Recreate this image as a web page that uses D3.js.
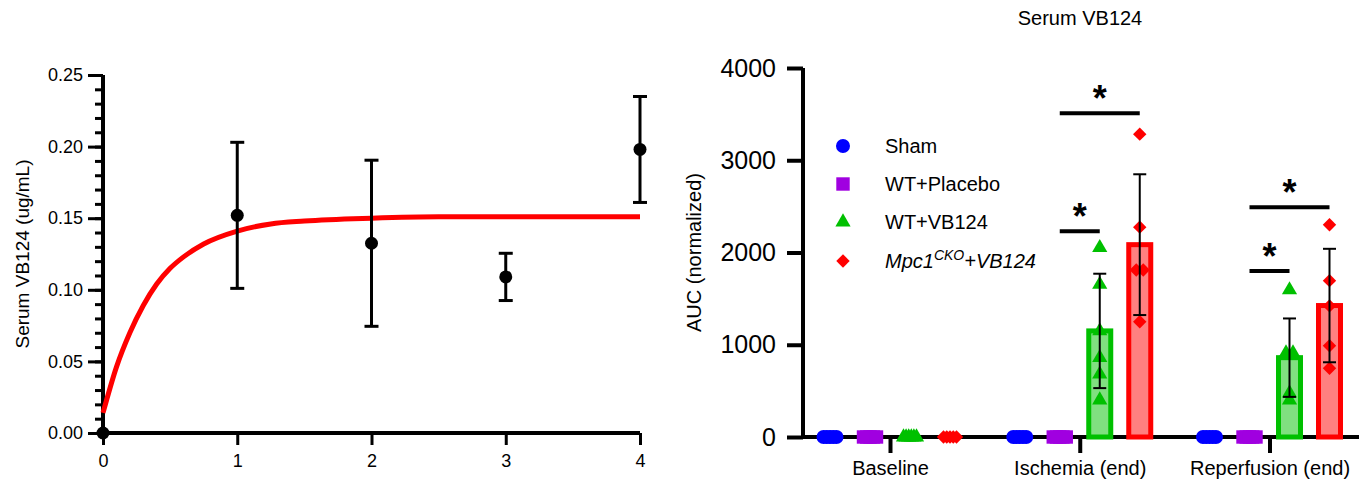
<!DOCTYPE html>
<html>
<head>
<meta charset="utf-8">
<script src="https://cdn.jsdelivr.net/npm/d3@7"></script>
<style>
  body { margin: 0; background: #fff; }
  svg { font-family: "Liberation Sans", Arial, sans-serif; }
</style>
</head>
<body>
<svg id="chart" width="1362" height="482"></svg>
<script>
// ---- left panel data (time course) ----
var timeX = [0, 1, 2, 3, 4];
var timeMean = [0, 0.152, 0.1325, 0.109, 0.198];
var timeSD = [0, 0.051, 0.058, 0.0165, 0.037];
var fitX = [0, 0.1, 0.2, 0.3, 0.4, 0.5, 0.6, 0.75, 1, 1.25, 1.5, 2, 2.5, 3, 4];
var fitY = [0.014, 0.046, 0.070, 0.089, 0.104, 0.115, 0.123, 0.132, 0.141, 0.146, 0.148, 0.150, 0.151, 0.151, 0.151];
var leftTicks = [0, 0.05, 0.10, 0.15, 0.20, 0.25];

// ---- right panel data (AUC) ----
var categories = ["Baseline", "Ischemia (end)", "Reperfusion (end)"];
var groups = ["Sham", "WT+Placebo", "WT+VB124", "Mpc1CKO+VB124"];
var shamPts = [[0, 0, 0, 0, 0], [0, 0, 0, 0, 0], [0, 0, 0, 0, 0]];
var placeboPts = [[0, 0, 0, 0, 0], [0, 0, 0, 0, 0], [0, 0, 0, 0, 0]];
var vb124Pts = [[0, 0, 0, 0, 0, 0], [2052, 1654, 1150, 860, 681, 401], [1594, 910, 910, 477, 401]];
var mpcPts = [[0, 0, 0, 0, 0], [3283, 2275, 1811, 1811, 1250], [2300, 1695, 1421, 990, 745]];
var vb124Mean = [0, 1150, 860];
var vb124SD = [0, 620, 425];
var mpcMean = [0, 2085, 1425];
var mpcSD = [0, 763, 615];
var rightTicks = [0, 1000, 2000, 3000, 4000];
// significance brackets: category, from group, to group, height (AUC units)
var sigCat = [1, 1, 2, 2];
var sigFrom = [1, 1, 1, 1];
var sigTo = [3, 2, 3, 2];
var sigLevel = [3510, 2230, 2490, 1800];

var svg = d3.select("#chart");

// ================= LEFT PANEL =================
var xL = d3.scaleLinear().domain([0, 4]).range([103, 640]);
var yL = d3.scaleLinear().domain([0, 0.25]).range([433, 75]);

var left = svg.append("g");

// y axis with minor ticks
left.append("g")
    .attr("transform", "translate(" + xL(0) + ",0)")
    .call(d3.axisLeft(yL).tickValues(d3.range(0, 0.2501, 0.01)).tickSize(8).tickFormat(""))
    .call(function(g){ g.select(".domain").remove(); })
    .selectAll("line").attr("stroke", "#000").attr("stroke-width", 3);

var yAxL = left.append("g")
    .attr("transform", "translate(" + xL(0) + ",0)")
    .call(d3.axisLeft(yL).tickValues(leftTicks).tickSize(15).tickPadding(5).tickFormat(d3.format(".2f")));
yAxL.select(".domain").attr("stroke-width", 4).attr("d", "M0," + yL(0.25) + "V" + yL(0));
yAxL.selectAll("line").attr("stroke-width", 3);
yAxL.selectAll("text").attr("font-size", 18).attr("fill", "#000");

var xAxL = left.append("g")
    .attr("transform", "translate(0," + yL(0) + ")")
    .call(d3.axisBottom(xL).tickValues(timeX).tickSize(12).tickPadding(9).tickFormat(d3.format("d")));
xAxL.select(".domain").attr("stroke-width", 4).attr("d", "M" + xL(0) + ",0H" + xL(4));
xAxL.selectAll("line").attr("stroke-width", 3);
xAxL.selectAll("text").attr("font-size", 18).attr("fill", "#000");

left.append("text")
    .attr("transform", "translate(29," + ((yL(0) + yL(0.25)) / 2) + ") rotate(-90)")
    .attr("text-anchor", "middle")
    .attr("font-size", 19)
    .text("Serum VB124 (ug/mL)");

// fitted curve
var fitData = fitX.map(function(x, i){ return [x, fitY[i]]; });
left.append("path")
    .datum(fitData)
    .attr("fill", "none")
    .attr("stroke", "#ff0000")
    .attr("stroke-width", 5)
    .attr("d", d3.line().x(function(d){ return xL(d[0]); }).y(function(d){ return yL(d[1]); }).curve(d3.curveMonotoneX));

// error bars + points
var timeData = timeX.map(function(x, i){ return {x: x, m: timeMean[i], sd: timeSD[i]}; });
var eb = left.selectAll(".eb").data(timeData.filter(function(d){ return d.sd > 0; })).enter().append("g");
eb.append("line")
    .attr("x1", function(d){ return xL(d.x); }).attr("x2", function(d){ return xL(d.x); })
    .attr("y1", function(d){ return yL(d.m - d.sd); }).attr("y2", function(d){ return yL(d.m + d.sd); })
    .attr("stroke", "#000").attr("stroke-width", 3);
[-1, 1].forEach(function(s){
  eb.append("line")
    .attr("x1", function(d){ return xL(d.x) - 7; }).attr("x2", function(d){ return xL(d.x) + 7; })
    .attr("y1", function(d){ return yL(d.m + s * d.sd); }).attr("y2", function(d){ return yL(d.m + s * d.sd); })
    .attr("stroke", "#000").attr("stroke-width", 3);
});
left.selectAll(".pt").data(timeData).enter().append("circle")
    .attr("cx", function(d){ return xL(d.x); })
    .attr("cy", function(d){ return yL(d.m); })
    .attr("r", 6.5)
    .attr("fill", "#000");

// ================= RIGHT PANEL =================
var right = svg.append("g");
var yR = d3.scaleLinear().domain([0, 4000]).range([437, 68]);
var xCat = d3.scalePoint().domain(categories).range([890, 1269.5]);
var xGrp = d3.scaleBand().domain(groups).range([-80, 80]);

var colors = ["#0000ff", "#a000e0", "#00c000", "#ff0000"];
var fills = ["#8080ff", "#d080f0", "#80e080", "#ff8080"];
var symbols = [d3.symbolCircle, d3.symbolSquare, d3.symbolTriangle, d3.symbolSquare];
var symSizes = [154, 180, 100, 90];
var symRot = [0, 0, 0, 45];

right.append("text")
    .attr("x", 1080).attr("y", 25)
    .attr("text-anchor", "middle")
    .attr("font-size", 20)
    .text("Serum VB124");

var yAxR = right.append("g")
    .attr("transform", "translate(803,0)")
    .call(d3.axisLeft(yR).tickValues(rightTicks).tickSize(16).tickPadding(11).tickFormat(d3.format("d")));
yAxR.select(".domain").attr("stroke-width", 4).attr("d", "M0," + yR(4000) + "V" + yR(0));
yAxR.selectAll("line").attr("stroke-width", 4);
yAxR.selectAll("text").attr("font-size", 25).attr("fill", "#000");

var xAxR = right.append("g")
    .attr("transform", "translate(0," + yR(0) + ")")
    .call(d3.axisBottom(xCat).tickSize(16).tickPadding(8));
xAxR.select(".domain").attr("stroke-width", 4).attr("d", "M803,0H1359");
xAxR.selectAll("line").attr("stroke-width", 4);
xAxR.selectAll("text").attr("font-size", 20).attr("fill", "#000");

right.append("text")
    .attr("transform", "translate(701," + yR(2000) + ") rotate(-90)")
    .attr("text-anchor", "middle")
    .attr("font-size", 20)
    .text("AUC (normalized)");

// bars
var barRows = [];
categories.forEach(function(c, ci){
  barRows.push({c: c, g: 2, m: vb124Mean[ci], sd: vb124SD[ci]});
  barRows.push({c: c, g: 3, m: mpcMean[ci], sd: mpcSD[ci]});
});
var barW = 22;
function gx(d){ return xCat(d.c) + xGrp(groups[d.g]) + xGrp.bandwidth() / 2; }
right.selectAll(".bar").data(barRows.filter(function(d){ return d.m > 0; })).enter().append("rect")
    .attr("x", function(d){ return gx(d) - barW / 2; })
    .attr("y", function(d){ return yR(d.m); })
    .attr("width", barW)
    .attr("height", function(d){ return yR(0) - yR(d.m); })
    .attr("fill", function(d){ return fills[d.g]; })
    .attr("stroke", function(d){ return colors[d.g]; })
    .attr("stroke-width", 5);

// points
var allPts = [shamPts, placeboPts, vb124Pts, mpcPts];
var ptRows = [];
allPts.forEach(function(set, gi){
  set.forEach(function(vals, ci){
    // spread equal values sideways, like a scatter dot plot
    var counts = {};
    vals.forEach(function(v){ counts[v] = (counts[v] || 0) + 1; });
    var seen = {};
    vals.forEach(function(v){
      var k = counts[v], i = seen[v] || 0;
      seen[v] = i + 1;
      var step = k > 1 ? Math.min(7, 13 / (k - 1)) : 0;
      ptRows.push({c: categories[ci], g: gi, v: v, dx: (i - (k - 1) / 2) * step});
    });
  });
});
right.selectAll(".pt").data(ptRows).enter().append("path")
    .attr("d", function(d){ return d3.symbol().type(symbols[d.g]).size(symSizes[d.g])(); })
    .attr("transform", function(d){
      return "translate(" + (gx(d) + d.dx) + "," + yR(d.v) + ") rotate(" + symRot[d.g] + ")";
    })
    .attr("fill", function(d){ return colors[d.g]; });

// error bars (SD)
var ebR = right.selectAll(".ebr").data(barRows.filter(function(d){ return d.sd > 0; })).enter().append("g");
ebR.append("line")
    .attr("x1", gx).attr("x2", gx)
    .attr("y1", function(d){ return yR(d.m - d.sd); }).attr("y2", function(d){ return yR(d.m + d.sd); })
    .attr("stroke", "#000").attr("stroke-width", 2);
[-1, 1].forEach(function(s){
  ebR.append("line")
    .attr("x1", function(d){ return gx(d) - 6.5; }).attr("x2", function(d){ return gx(d) + 6.5; })
    .attr("y1", function(d){ return yR(d.m + s * d.sd); }).attr("y2", function(d){ return yR(d.m + s * d.sd); })
    .attr("stroke", "#000").attr("stroke-width", 2);
});

// significance brackets
sigCat.forEach(function(ci, i){
  var x1 = gx({c: categories[ci], g: sigFrom[i]});
  var x2 = gx({c: categories[ci], g: sigTo[i]});
  var y = yR(sigLevel[i]);
  right.append("line")
      .attr("x1", x1).attr("x2", x2).attr("y1", y).attr("y2", y)
      .attr("stroke", "#000").attr("stroke-width", 4);
  right.append("text")
      .attr("x", (x1 + x2) / 2).attr("y", y - 2)
      .attr("text-anchor", "middle")
      .attr("font-size", 36).attr("font-weight", "bold")
      .text("*");
});

// legend
var legY = [146, 184, 222, 261];
var leg = right.selectAll(".leg").data(groups).enter().append("g")
    .attr("transform", function(d, i){ return "translate(843," + legY[i] + ")"; });
leg.append("path")
    .attr("d", function(d, i){ return d3.symbol().type(symbols[i]).size(symSizes[i])(); })
    .attr("transform", function(d, i){ return "rotate(" + symRot[i] + ")"; })
    .attr("fill", function(d, i){ return colors[i]; });
leg.each(function(d, i){
  var t = d3.select(this).append("text").attr("x", 42).attr("y", 7).attr("font-size", 20);
  if (i === 3) {
    t.attr("font-style", "italic");
    t.append("tspan").text("Mpc1");
    t.append("tspan").attr("dy", -8).attr("font-size", 14).text("CKO");
    t.append("tspan").attr("dy", 8).text("+VB124");
  } else {
    t.text(d);
  }
});
</script>
</body>
</html>
